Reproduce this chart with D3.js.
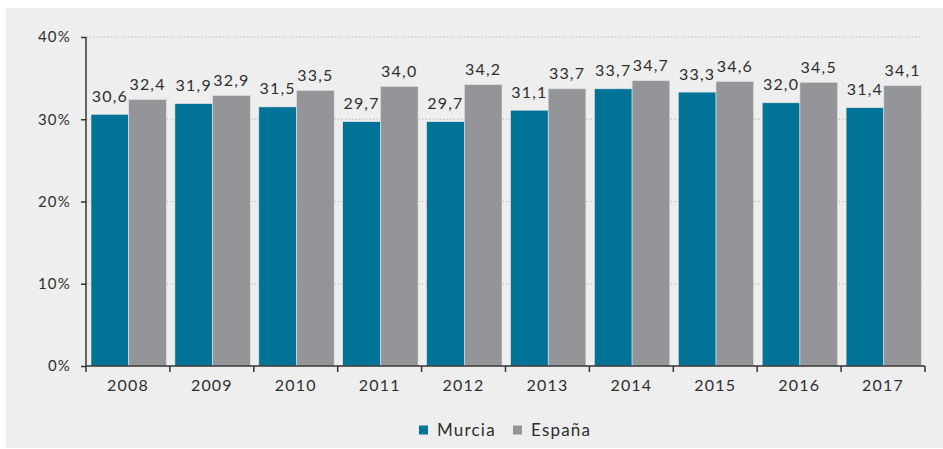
<!DOCTYPE html>
<html>
<head>
<meta charset="utf-8">
<script src="https://cdn.jsdelivr.net/npm/d3@7"></script>
<style>
  body { margin: 0; background: #fff; }
  text { font-family: Lato, "Noto Sans", sans-serif; fill: #2e2e2e; letter-spacing: 1.2px; }
</style>
</head>
<body>
<svg id="chart"></svg>
<script>
var years = ["2008", "2009", "2010", "2011", "2012", "2013", "2014", "2015", "2016", "2017"];
var murcia = [30.6, 31.9, 31.5, 29.7, 29.7, 31.1, 33.7, 33.3, 32.0, 31.4];
var espana = [32.4, 32.9, 33.5, 34.0, 34.2, 33.7, 34.7, 34.6, 34.5, 34.1];
var seriesNames = ["Murcia", "España"];
var yTicks = [0, 10, 20, 30, 40];

var width = 943;
var height = 449;
var colors = ["#007396", "#939598"];
var labelGap = [12.5, 9.5];

var svg = d3.select("svg#chart")
    .attr("width", width)
    .attr("height", height);

// gray panel
svg.append("rect")
    .attr("x", 6).attr("y", 8)
    .attr("width", width - 6).attr("height", 440)
    .attr("fill", "#eeeeee");

var plotL = 86, plotR = 925, plotT = 37, plotB = 366;

var x0 = d3.scaleBand().domain(years).range([plotL, plotR]).paddingInner(0).paddingOuter(0);
var x1 = d3.scaleBand().domain(seriesNames).range([5, x0.bandwidth() - 3.5]);
var y = d3.scaleLinear().domain([0, 40]).range([plotB, plotT]);

var fmt = function(v) { return d3.format(".1f")(v).replace(".", ","); };

// dotted grid
svg.append("g").selectAll("line")
    .data(yTicks.slice(1))
    .join("line")
    .attr("x1", plotL).attr("x2", plotR - 2)
    .attr("y1", function(d) { return y(d); })
    .attr("y2", function(d) { return y(d); })
    .attr("stroke", "#bbb")
    .attr("stroke-width", 1)
    .attr("stroke-dasharray", "1.5,2");

// bars
var rows = years.map(function(yr, i) {
    return { year: yr, vals: [murcia[i], espana[i]] };
});

var groups = svg.append("g").selectAll("g")
    .data(rows)
    .join("g")
    .attr("transform", function(d) { return "translate(" + x0(d.year) + ",0)"; });

groups.selectAll("rect")
    .data(function(d) { return d.vals.map(function(v, k) { return { name: seriesNames[k], v: v, k: k }; }); })
    .join("rect")
    .attr("x", function(d) { return x1(d.name); })
    .attr("width", x1.bandwidth())
    .attr("y", function(d) { return y(d.v); })
    .attr("height", function(d) { return plotB - y(d.v); })
    .attr("fill", function(d) { return colors[d.k]; })
    .attr("stroke", "#e4e4e4")
    .attr("stroke-width", 0.6);

groups.selectAll("text")
    .data(function(d) { return d.vals.map(function(v, k) { return { name: seriesNames[k], v: v, k: k }; }); })
    .join("text")
    .attr("x", function(d) { return x1(d.name) + x1.bandwidth() / 2; })
    .attr("y", function(d) { return y(d.v) - labelGap[d.k]; })
    .attr("text-anchor", "middle")
    .attr("font-size", 16)
    .text(function(d) { return fmt(d.v); });

// y axis
var yAxis = svg.append("g")
    .attr("transform", "translate(" + plotL + ",0)")
    .call(d3.axisLeft(y).tickValues(yTicks).tickSize(5).tickPadding(10)
        .tickFormat(function(d) { return d + "%"; }));
yAxis.select(".domain").attr("stroke", "#333").attr("stroke-width", 1.5).attr("d", "M0," + plotT + "V" + plotB);
yAxis.selectAll(".tick line").attr("stroke", "#333").attr("stroke-width", 1.5);
yAxis.selectAll(".tick text").attr("font-size", 15).attr("fill", "#2e2e2e");

// x axis
var xAxis = svg.append("g")
    .attr("transform", "translate(0," + plotB + ")")
    .call(d3.axisBottom(x0).tickSize(0).tickPadding(14));
xAxis.select(".domain").attr("stroke", "#333").attr("stroke-width", 1.5).attr("d", "M" + plotL + ",0H" + plotR);
xAxis.selectAll(".tick text").attr("font-size", 16).attr("fill", "#2e2e2e");

var boundaries = years.map(function(yr) { return x0(yr); }).concat([plotR]);
svg.append("g").selectAll("line")
    .data(boundaries)
    .join("line")
    .attr("x1", function(d) { return d; }).attr("x2", function(d) { return d; })
    .attr("y1", plotB).attr("y2", plotB + 6)
    .attr("stroke", "#333")
    .attr("stroke-width", 1.5);

// legend
var legend = svg.append("g").attr("transform", "translate(419,430)");
var legendPos = [0, 94];
seriesNames.forEach(function(name, k) {
    var g = legend.append("g").attr("transform", "translate(" + legendPos[k] + ",0)");
    g.append("rect")
        .attr("x", 0).attr("y", -4.5)
        .attr("width", 9).attr("height", 9)
        .attr("fill", colors[k]);
    g.append("text")
        .attr("x", 18).attr("y", 0)
        .attr("dy", "0.35em")
        .attr("font-size", 17)
        .text(name);
});
</script>
</body>
</html>
